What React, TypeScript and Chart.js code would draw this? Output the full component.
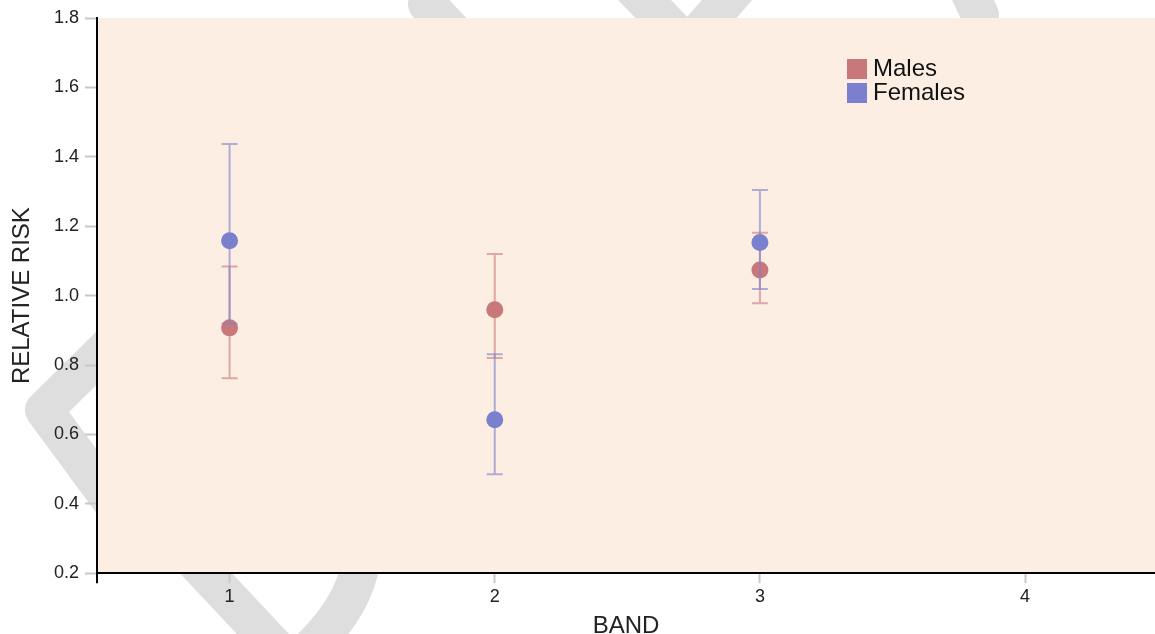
import React, { useEffect, useRef } from 'react';
import { Chart, registerables } from 'chart.js';

Chart.register(...registerables);

// ---- Data ----
const bandTicks = [1, 2, 3, 4];
const bandsWithData = [1, 2, 3];
const seriesNames = ['Males', 'Females'];

const malesRR = [0.907, 0.959, 1.074];
const malesLow = [0.762, 0.82, 0.978];
const malesHigh = [1.084, 1.12, 1.181];

const femalesRR = [1.158, 0.642, 1.153];
const femalesLow = [0.919, 0.485, 1.019];
const femalesHigh = [1.437, 0.831, 1.304];

const yTickValues = [0.2, 0.4, 0.6, 0.8, 1.0, 1.2, 1.4, 1.6, 1.8];

const maleColor = 'rgb(200,120,120)';
const maleBarColor = 'rgba(200,120,120,0.6)';
const femaleColor = 'rgb(122,128,206)';
const femaleBarColor = 'rgba(122,128,206,0.6)';
const plotBg = 'rgb(253,238,227)';
const watermarkColor = 'rgb(222,222,222)';
const FONT = "'Liberation Sans', Arial, sans-serif";

// decorative background watermark (behind the plot area)
function drawWatermark(ctx: CanvasRenderingContext2D) {
  ctx.save();
  ctx.strokeStyle = watermarkColor;
  ctx.lineWidth = 38;
  ctx.lineCap = 'round';
  ctx.lineJoin = 'round';
  // left chevron
  ctx.beginPath();
  ctx.moveTo(130, 325);
  ctx.lineTo(44, 410);
  ctx.lineTo(125, 520);
  ctx.stroke();
  // bottom U-shape
  ctx.beginPath();
  ctx.moveTo(170, 535);
  ctx.lineTo(292, 665);
  ctx.quadraticCurveTo(370, 600, 362, 530);
  ctx.stroke();
  // top arch
  ctx.beginPath();
  ctx.moveTo(427, 4);
  ctx.lineTo(480, 60);
  ctx.stroke();
  // top V
  ctx.beginPath();
  ctx.moveTo(630, -15);
  ctx.lineTo(688, 45);
  ctx.lineTo(740, -15);
  ctx.stroke();
  // top right curve
  ctx.beginPath();
  ctx.moveTo(966, -15);
  ctx.lineTo(980, 15);
  ctx.stroke();
  ctx.restore();
}

const bgPlugin = {
  id: 'bgPlugin',
  beforeDraw(chart: any) {
    const { ctx, chartArea } = chart;
    ctx.save();
    ctx.fillStyle = '#ffffff';
    ctx.fillRect(0, 0, chart.width, chart.height);
    drawWatermark(ctx);
    ctx.fillStyle = plotBg;
    ctx.fillRect(chartArea.left, chartArea.top, chartArea.right - chartArea.left, chartArea.bottom - chartArea.top);
    ctx.restore();
  },
  afterDraw(chart: any) {
    // y-axis domain outer extension below x axis
    const { ctx, chartArea } = chart;
    ctx.save();
    ctx.strokeStyle = '#000';
    ctx.lineWidth = 2;
    ctx.beginPath();
    ctx.moveTo(chartArea.left, chartArea.bottom);
    ctx.lineTo(chartArea.left, chartArea.bottom + 10);
    ctx.stroke();
    ctx.restore();
  },
};

const errorBarPlugin = {
  id: 'errorBars',
  beforeDatasetDraw(chart: any, args: any) {
    const ds: any = chart.data.datasets[args.index];
    if (!ds.low) return;
    const { ctx } = chart;
    const xs = chart.scales.x;
    const ys = chart.scales.y;
    ctx.save();
    ctx.strokeStyle = ds.barColor;
    ctx.lineWidth = 2;
    ds.data.forEach((p: any, i: number) => {
      const x = xs.getPixelForValue(p.x);
      const yl = ys.getPixelForValue(ds.low[i]);
      const yh = ys.getPixelForValue(ds.high[i]);
      ctx.beginPath();
      ctx.moveTo(x, yl);
      ctx.lineTo(x, yh);
      ctx.moveTo(x - 8, yl);
      ctx.lineTo(x + 8, yl);
      ctx.moveTo(x - 8, yh);
      ctx.lineTo(x + 8, yh);
      ctx.stroke();
    });
    ctx.restore();
  },
};

const legendPlugin = {
  id: 'customLegend',
  afterDraw(chart: any) {
    const { ctx } = chart;
    const items = [
      { label: seriesNames[0], color: maleColor },
      { label: seriesNames[1], color: femaleColor },
    ];
    ctx.save();
    ctx.font = `24px ${FONT}`;
    ctx.textBaseline = 'middle';
    items.forEach((it, i) => {
      const y = 59 + i * 24;
      ctx.fillStyle = it.color;
      ctx.fillRect(847, y, 20, 20);
      ctx.fillStyle = '#111';
      ctx.fillText(it.label, 873, y + 10);
    });
    ctx.restore();
  },
};

export default function App() {
  const ref = useRef<HTMLCanvasElement>(null);
  useEffect(() => {
    document.body.style.margin = '0';
    const chart = new Chart(ref.current as HTMLCanvasElement, {
      type: 'scatter',
      data: {
        datasets: [
          {
            label: seriesNames[1],
            data: bandsWithData.map((b, i) => ({ x: b, y: femalesRR[i] })),
            low: femalesLow,
            high: femalesHigh,
            barColor: femaleBarColor,
            backgroundColor: femaleColor,
            borderColor: femaleColor,
            borderWidth: 0,
            pointRadius: 8.5,
          } as any,
          {
            label: seriesNames[0],
            data: bandsWithData.map((b, i) => ({ x: b, y: malesRR[i] })),
            low: malesLow,
            high: malesHigh,
            barColor: maleBarColor,
            backgroundColor: maleColor,
            borderColor: maleColor,
            borderWidth: 0,
            pointRadius: 8.5,
          } as any,
        ],
      },
      options: {
        animation: false,
        responsive: false,
        maintainAspectRatio: false,
        layout: { autoPadding: false, padding: { top: 18, right: 0, bottom: -4, left: 0 } },
        plugins: {
          legend: { display: false },
          tooltip: { enabled: false },
        },
        scales: {
          x: {
            type: 'linear',
            min: 0.5,
            max: 4.49,
            afterBuildTicks(scale: any) {
              scale.ticks = bandTicks.map((v) => ({ value: v }));
            },
            grid: {
              drawOnChartArea: false,
              drawTicks: true,
              tickLength: 10,
              tickWidth: 2,
              tickColor: '#c8c8c8',
            },
            border: { display: true, color: '#000', width: 2 },
            ticks: {
              color: '#222',
              font: { family: FONT, size: 18, lineHeight: 1.1 },
              padding: 4,
              callback: (v: any) => String(v),
            },
            title: {
              display: true,
              text: 'BAND',
              color: '#222',
              font: { family: FONT, size: 24, lineHeight: 1.0 },
              padding: { top: 3, bottom: 0 },
            },
          },
          y: {
            type: 'linear',
            min: 0.2,
            max: 1.8,
            afterBuildTicks(scale: any) {
              scale.ticks = yTickValues.map((v) => ({ value: v }));
            },
            afterFit(scale: any) {
              scale.width = 97;
            },
            grid: {
              drawOnChartArea: false,
              drawTicks: true,
              tickLength: 12,
              tickWidth: 2,
              tickColor: '#c8c8c8',
            },
            border: { display: true, color: '#000', width: 2 },
            ticks: {
              color: '#222',
              font: { family: FONT, size: 18 },
              padding: 6,
              callback: (v: any) => Number(v).toFixed(1),
            },
            title: {
              display: true,
              text: 'RELATIVE RISK',
              color: '#222',
              font: { family: FONT, size: 24 },
              padding: { top: 8, bottom: 0 },
            },
          },
        },
      },
      plugins: [bgPlugin, errorBarPlugin, legendPlugin],
    } as any);
    return () => chart.destroy();
  }, []);
  return <canvas ref={ref} width={1155} height={634} style={{ display: 'block' }} />;
}
